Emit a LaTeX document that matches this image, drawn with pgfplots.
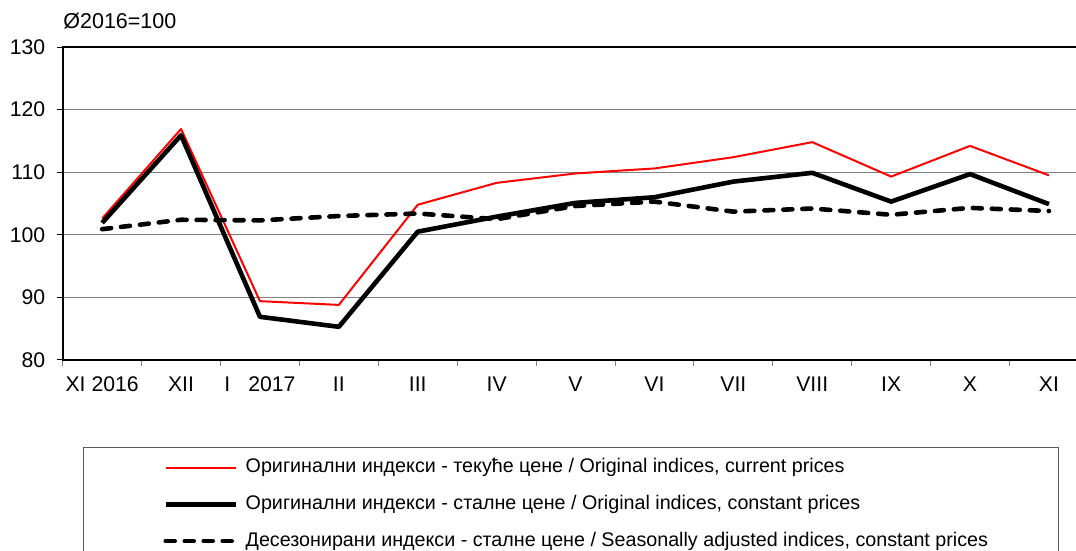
\documentclass[border=0pt]{standalone}
\usepackage{pgfplots}
\pgfplotsset{compat=1.18}
\usepackage{fontspec}
\setmainfont{Liberation Sans}
\begin{document}
\begin{tikzpicture}
\clip (0pt,0pt) rectangle (538pt,275.5pt);
\begin{axis}[
  at={(31.35pt,95.5pt)}, anchor=south west,
  scale only axis, width=512.85pt, height=156.5pt,
  xmin=-0.5, xmax=12.5, ymin=80, ymax=130,
  ytick={80,90,...,130},
  xtick={0,...,12},
  xticklabels={XI 2016,XII,I\hspace{0.85em}2017,II,III,IV,V,VI,VII,VIII,IX,X,XI},
  minor xtick={-0.5,0.5,...,12.5},
  major x tick style={draw=none},
  minor x tick style={gray, line width=0.5pt},
  minor tick length=3pt,
  major tick length=2.7pt,
  tick align=outside,
  xtick pos=bottom, ytick pos=left,
  y tick style={black, line width=0.5pt},
  ymajorgrids, grid style={gray, line width=0.5pt},
  axis line style={black, line width=1pt},
  tick label style={font=\fontsize{10.6}{12}\selectfont},
  yticklabel style={xshift=-2.5pt},
  xticklabel style={yshift=-2pt},
  /pgf/number format/assume math mode=true,
  clip=false,
  legend style={draw=none, fill=none, at={(0.0978,-0.314)}, anchor=north west,
    inner sep=0pt, row sep=9.35pt, column sep=3.85pt,
    font=\fontsize{9.85}{11}\selectfont,
    nodes={inner sep=0pt, text height=7pt, text depth=2pt}},
  legend cell align=left,
  legend image code/.code={\draw[#1] (0pt,0pt) -- (35pt,0pt);},
]
\addplot[red, line width=1pt, line join=round] coordinates {
 (0,102.6) (1,116.9) (2,89.4) (3,88.8) (4,104.8) (5,108.3) (6,109.8)
 (7,110.6) (8,112.4) (9,114.8) (10,109.3) (11,114.2) (12,109.5)};
\addlegendentry{Оригинални индекси - текуће цене / Original indices, current prices}
\addplot[black, line width=2.3pt, line join=round] coordinates {
 (0,101.9) (1,115.9) (2,86.9) (3,85.3) (4,100.5) (5,102.9) (6,105.1)
 (7,106.0) (8,108.5) (9,109.9) (10,105.3) (11,109.7) (12,104.9)};
\addlegendentry{Оригинални индекси - сталне цене / Original indices, constant prices}
\addplot[black, line width=2.3pt, line cap=round, dash pattern=on 4.5pt off 5pt] coordinates {
 (0,100.9) (1,102.4) (2,102.3) (3,103.0) (4,103.4) (5,102.5) (6,104.6)
 (7,105.3) (8,103.7) (9,104.2) (10,103.2) (11,104.3) (12,103.8)};
\addlegendentry{Десезонирани индекси - сталне цене / Seasonally adjusted indices, constant prices}
\end{axis}
\node[anchor=base west, inner sep=0pt, font=\fontsize{10.75}{12}\selectfont] at (31.5pt,261pt) {Ø2016=100};
\draw[gray!70!black, line width=0.5pt] (41.5pt,51.5pt) rectangle (529pt,-5pt);
\end{tikzpicture}
\end{document}
